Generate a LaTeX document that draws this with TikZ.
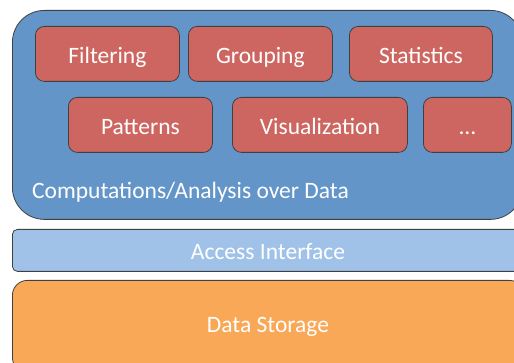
\documentclass[tikz,border=0pt]{standalone}
\usepackage{fontspec}
\setmainfont{Carlito}
\definecolor{layerblue}{RGB}{99,149,201}
\definecolor{toolred}{RGB}{205,102,96}
\definecolor{accessblue}{RGB}{160,194,232}
\definecolor{storeorange}{RGB}{248,168,86}
\begin{document}
\begin{tikzpicture}[x=1pt,y=-1pt,
  layer/.style={draw=black!75, line width=0.8pt, anchor=north west, inner sep=0pt},
  tool/.style={layer, fill=toolred, rounded corners=9pt, minimum height=55pt,
    text=white, font=\fontsize{23.5}{28}\selectfont, text height=19pt, text depth=0pt},
  caption/.style={text=white, inner sep=0pt, font=\fontsize{23.5}{28}\selectfont}]

\useasboundingbox (0,0) rectangle (514,363);

% computation layer
\node[layer, fill=layerblue, rounded corners=32pt,
      minimum width=510pt, minimum height=209pt] (compute) at (12,10) {};
\node[caption, anchor=base west] (computetext) at (32,199) {Computations/Analysis over Data};

% first row
\node[tool, minimum width=144pt] (filtering)  at (35,26)  {Filtering};
\node[tool, minimum width=144pt] (grouping)   at (188,26) {Grouping};
\node[tool, minimum width=143pt] (statistics) at (349,26) {Statistics};

% second row
\node[tool, minimum width=144pt] (patterns)      at (68,97)  {Patterns};
\node[tool, minimum width=175pt] (visualization) at (232,97) {Visualization};
\node[tool, minimum width=88pt]  (more)          at (423,97) {\dots};

% access layer
\node[layer, fill=accessblue, rounded corners=5pt,
      minimum width=512pt, minimum height=42pt] (access) at (12,229) {};
\node[caption, anchor=base] (accesstext) at (268,260) {Access Interface};

% storage layer
\node[layer, fill=storeorange, rounded corners=15pt,
      minimum width=512pt, minimum height=92pt] (storage) at (12,280) {};
\node[caption, anchor=base] (storagetext) at (268,333) {Data Storage};

\end{tikzpicture}
\end{document}
